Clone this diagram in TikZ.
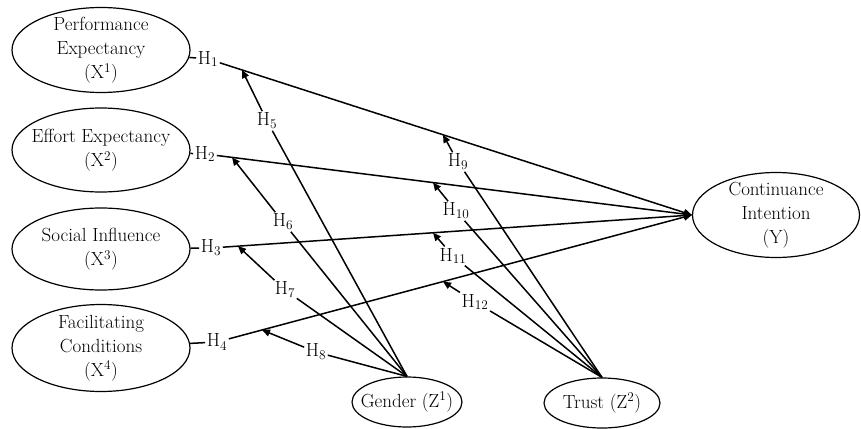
\documentclass[tikz,border=0pt]{standalone}
\usetikzlibrary{shapes.geometric,arrows.meta,calc}
\begin{document}
\begin{tikzpicture}[x=1pt,y=-1pt,
  every node/.style={font=\fontsize{19}{24}\selectfont},
  var/.style={draw, ellipse, line width=1.2pt, inner sep=0pt},
  hl/.style={inner sep=1.5pt},
  ln/.style={line width=1.5pt},
  arr/.style={ln, -{Triangle[length=8pt,width=7pt]}}]
\useasboundingbox (0,0) rectangle (861,428);
% constructs
\node[var, minimum width=178pt, minimum height=85pt,
  label={[align=center]center:Performance\\Expectancy\\(X\textsuperscript{1})}] (pe) at (101,50) {};
\node[var, minimum width=178pt, minimum height=84pt,
  label={[align=center]center:Effort Expectancy\\(X\textsuperscript{2})}] (ee) at (101,150) {};
\node[var, minimum width=178pt, minimum height=82pt,
  label={[align=center]center:Social Influence\\(X\textsuperscript{3})}] (si) at (101,249) {};
\node[var, minimum width=178pt, minimum height=87pt,
  label={[align=center]center:Facilitating\\Conditions\\(X\textsuperscript{4})}] (fc) at (101,348) {};
\node[var, minimum width=167pt, minimum height=85pt,
  label={[align=center]center:Continuance\\Intention\\(Y)}] (ci) at (776,215) {};
\node[var, minimum width=110pt, minimum height=50pt,
  label={center:Gender (Z\textsuperscript{1})}] (gender) at (407,402) {};
\node[var, minimum width=116pt, minimum height=50pt,
  label={center:Trust (Z\textsuperscript{2})}] (trust) at (602,403) {};
\coordinate (ciw) at (ci.west);
\coordinate (gtop) at (gender.north);
\coordinate (ttop) at (trust.north);
% hypothesis labels
\node[hl] (h1) at (208,59) {H\textsubscript{1}};
\node[hl] (h2) at (205,154) {H\textsubscript{2}};
\node[hl] (h3) at (211,248) {H\textsubscript{3}};
\node[hl] (h4) at (217,342) {H\textsubscript{4}};
\node[hl] (h5) at (267,121) {H\textsubscript{5}};
\node[hl] (h6) at (283,222) {H\textsubscript{6}};
\node[hl] (h7) at (285,290) {H\textsubscript{7}};
\node[hl] (h8) at (316,352) {H\textsubscript{8}};
\node[hl] (h9) at (458,162) {H\textsubscript{9}};
\node[hl] (h10) at (456,211) {H\textsubscript{10}};
\node[hl] (h11) at (453,256) {H\textsubscript{11}};
\node[hl] (h12) at (475,302) {H\textsubscript{12}};
% main paths
\draw[ln] (pe) -- (h1);
\draw[ln] (ee) -- (h2);
\draw[ln] (si) -- (h3);
\draw[ln] (fc) -- (h4);
\draw[arr] (h1) -- (ciw);
\draw[arr] (h2) -- (ciw);
\draw[arr] (h3) -- (ciw);
\draw[arr] (h4) -- (ciw);
% moderation tips
\coordinate (t5) at (intersection of h1--ciw and 242,0--242,400);
\coordinate (t6) at (intersection of h2--ciw and 232,0--232,400);
\coordinate (t7) at (intersection of h3--ciw and 238,0--238,400);
\coordinate (t8) at (intersection of h4--ciw and 262,0--262,400);
\coordinate (t9) at (intersection of h1--ciw and 443,0--443,400);
\coordinate (t10) at (intersection of h2--ciw and 433,0--433,400);
\coordinate (t11) at (intersection of h3--ciw and 433,0--433,400);
\coordinate (t12) at (intersection of h4--ciw and 443,0--443,400);
% moderators
\foreach \i in {5,6,7,8}{
  \draw[ln] (gtop) -- (h\i);
  \draw[arr] (h\i) -- (t\i);
}
\foreach \i in {9,10,11,12}{
  \draw[ln] (ttop) -- (h\i);
  \draw[arr] (h\i) -- (t\i);
}
\end{tikzpicture}
\end{document}
